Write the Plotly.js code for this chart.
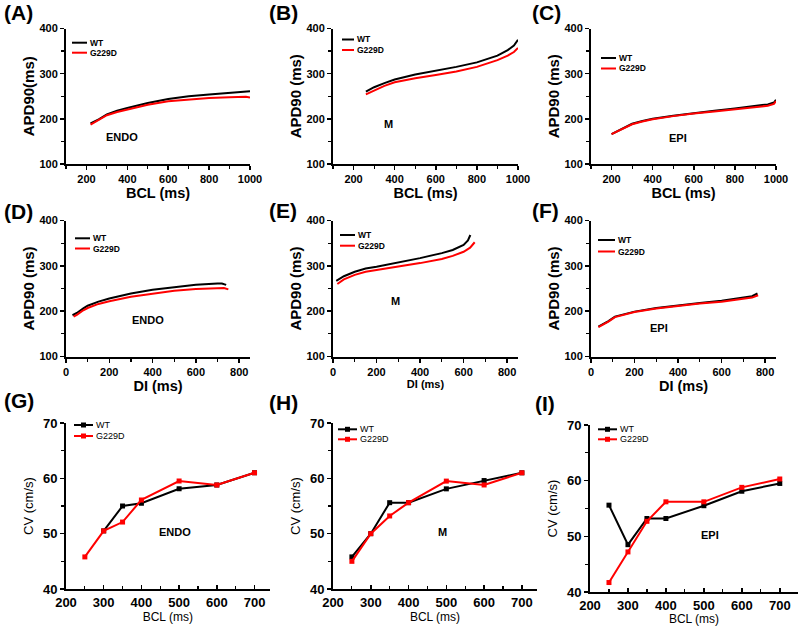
<!DOCTYPE html>
<html>
<head>
<meta charset="utf-8">
<script src="https://cdn.plot.ly/plotly-3.0.1.min.js"></script>
<style>html,body{margin:0;padding:0;background:#fff;}#chart{width:800px;height:626px;}</style>
</head>
<body>
<div id="chart"></div>
<script>
// ---------- DATA ----------
const seriesNames = ["WT", "G229D"];
const regionLabels = ["ENDO", "M", "EPI"];
const panelLabels = ["(A)", "(B)", "(C)", "(D)", "(E)", "(F)", "(G)", "(H)", "(I)"];

// Row 1: APD90 vs BCL
const aWtX  = [220, 260, 300, 350, 400, 500, 600, 700, 800, 900, 1000];
const aWtY  = [190, 199, 210, 218, 224, 235, 244, 250, 254, 258, 261];
const aMutX = [220, 260, 300, 350, 400, 500, 600, 700, 800, 900, 980, 1000];
const aMutY = [187, 197, 208, 215, 220, 231, 239, 243, 246, 248, 249, 247];

const bWtX  = [260, 300, 350, 400, 500, 600, 700, 800, 900, 950, 980, 1000];
const bWtY  = [260, 270, 279, 287, 298, 306, 315, 325, 340, 352, 362, 375];
const bMutX = [260, 300, 350, 400, 500, 600, 700, 800, 900, 950, 980, 1000];
const bMutY = [254, 263, 273, 281, 290, 297, 305, 315, 330, 340, 348, 357];

const cWtX  = [200, 250, 300, 350, 400, 500, 600, 700, 800, 900, 960, 990, 1000];
const cWtY  = [166, 177, 189, 195, 200, 207, 213, 218, 223, 228, 232, 236, 242];
const cMutX = [200, 250, 300, 350, 400, 500, 600, 700, 800, 900, 960, 990, 1000];
const cMutY = [166, 177, 188, 194, 199, 206, 212, 216, 221, 225, 229, 233, 239];

// Row 2: APD90 vs DI
const dWtX  = [30, 50, 80, 100, 150, 200, 300, 400, 500, 600, 700, 720, 740];
const dWtY  = [191, 196, 206, 212, 221, 228, 239, 247, 253, 258, 261, 261, 258];
const dMutX = [35, 50, 80, 100, 150, 200, 300, 400, 500, 600, 700, 730, 750];
const dMutY = [188, 192, 202, 207, 216, 222, 232, 239, 245, 249, 251, 251, 248];

const eWtX  = [15, 50, 100, 150, 200, 300, 400, 500, 550, 600, 620, 631];
const eWtY  = [267, 277, 287, 294, 298, 307, 317, 328, 335, 346, 356, 368];
const eMutX = [20, 50, 100, 150, 200, 300, 400, 500, 550, 600, 630, 651];
const eMutY = [260, 270, 280, 287, 291, 298, 306, 315, 322, 331, 340, 352];

const fWtX  = [34, 60, 80, 110, 150, 200, 300, 400, 500, 600, 700, 740, 765];
const fWtY  = [166, 172, 178, 188, 193, 199, 207, 213, 218, 223, 229, 233, 239];
const fMutX = [34, 60, 80, 110, 150, 200, 300, 400, 500, 600, 700, 740, 768];
const fMutY = [165, 171, 177, 187, 192, 198, 206, 212, 217, 221, 227, 230, 235];

// Row 3: CV vs BCL
const gWtX  = [300, 350, 400, 500, 600, 700];
const gWtY  = [50.5, 55.0, 55.5, 58.1, 58.8, 61.0];
const gMutX = [250, 300, 350, 400, 500, 600, 700];
const gMutY = [45.8, 50.5, 52.1, 56.1, 59.5, 58.8, 61.0];

const hWtX  = [250, 300, 350, 400, 500, 600, 700];
const hWtY  = [45.8, 50.0, 55.6, 55.6, 58.1, 59.6, 61.0];
const hMutX = [250, 300, 350, 400, 500, 600, 700];
const hMutY = [45.0, 50.0, 53.2, 55.6, 59.5, 58.8, 61.0];

const iWtX  = [250, 300, 350, 400, 500, 600, 700];
const iWtY  = [55.6, 48.5, 53.2, 53.2, 55.5, 58.1, 59.5];
const iMutX = [250, 300, 350, 400, 500, 600, 700];
const iMutY = [41.7, 47.2, 52.7, 56.2, 56.2, 58.8, 60.3];

// ---------- BUILD ----------
const FONT = "Arial, 'Liberation Sans', sans-serif";
const BLACK = "#000000", RED = "#ff0000";
const seriesColors = [BLACK, RED];

const panels = [
  [aWtX, aWtY, aMutX, aMutY], [bWtX, bWtY, bMutX, bMutY], [cWtX, cWtY, cMutX, cMutY],
  [dWtX, dWtY, dMutX, dMutY], [eWtX, eWtY, eMutX, eMutY], [fWtX, fWtY, fMutX, fMutY],
  [gWtX, gWtY, gMutX, gMutY], [hWtX, hWtY, hMutX, hMutY], [iWtX, iWtY, iMutX, iMutY]
];

const W = 800, H = 626;
const px = v => v / W;
const py = v => 1 - v / H;

// pixel boxes [left, right, top, bottom]
const boxes = [
  [66, 250, 28.5, 164], [333, 518, 28.5, 164], [591, 776, 28.5, 164],
  [66, 250, 220.5, 356.5], [333, 518, 220.5, 356.5], [591, 776, 220.5, 356.5],
  [66, 269.6, 423, 589], [333, 537, 423, 589], [590, 798, 425, 592]
];
const xRanges = [[100,1000],[100,1000],[100,1000],[0,850],[0,850],[0,850],[200,740],[200,740],[200,748]];
const yRanges = [[100,400],[100,400],[100,400],[100,400],[100,400],[100,400],[40,70],[40,70],[40,70]];
const xTitles = ["BCL (ms)","BCL (ms)","BCL (ms)","DI (ms)","DI (ms)","DI (ms)","BCL (ms)","BCL (ms)","BCL (ms)"];
const yTitles = ["APD90(ms)","APD90 (ms)","APD90 (ms)","APD90 (ms)","APD90 (ms)","APD90 (ms)","CV (cm/s)","CV (cm/s)","CV (cm/s)"];

// legend key placement: [lineStartPx, lineEndPx, row1Px, row2Px]
const legendPos = [
  [72, 87, 42.7, 52.7], [342, 354, 39.5, 50], [601, 616, 58, 68.5],
  [75, 90, 238.3, 248.5], [340, 355, 235, 245.7], [598, 615, 240, 251.5],
  [74, 93, 425, 436], [338, 357, 429.3, 439.3], [598, 617, 429.3, 439.3]
];

const traces = [];
const layout = {
  width: W, height: H,
  margin: {l: 0, r: 0, t: 0, b: 0},
  paper_bgcolor: "#ffffff", plot_bgcolor: "rgba(0,0,0,0)",
  font: {family: FONT, color: "#000"},
  showlegend: false,
  annotations: [],
  shapes: []
};

for (let k = 0; k < 9; k++) {
  const n = k === 0 ? "" : String(k + 1);
  const [wx, wy, mx, my] = panels[k];
  const row3 = k >= 6;
  const mode = row3 ? "lines+markers" : "lines";
  traces.push({
    x: wx, y: wy, name: seriesNames[0], type: "scatter", mode: mode,
    xaxis: "x" + n, yaxis: "y" + n,
    line: {color: BLACK, width: 2}, marker: {symbol: "square", size: 5, color: BLACK}
  });
  traces.push({
    x: mx, y: my, name: seriesNames[1], type: "scatter", mode: mode,
    xaxis: "x" + n, yaxis: "y" + n,
    line: {color: RED, width: 2}, marker: {symbol: "square", size: 5, color: RED}
  });

  const [l, r, t, b] = boxes[k];
  const tickF = {family: FONT, size: row3 ? 13 : 11, color: "#000", weight: "bold"};
  const xTitleFont = row3 ? {family: FONT, size: 12, color: "#000"}
                          : {family: FONT, size: (k === 4 ? 11 : 14.5), color: "#000", weight: "bold"};
  const yTitleFont = row3 ? {family: FONT, size: 13, color: "#000"}
                          : {family: FONT, size: 15, color: "#000", weight: "bold"};
  layout["xaxis" + n] = {
    domain: [px(l), px(r)], range: xRanges[k], anchor: "y" + n,
    showline: true, linecolor: "#000", linewidth: 2, mirror: false,
    showgrid: false, zeroline: false,
    ticks: row3 ? "inside" : "outside", ticklen: 4, tickwidth: 1.5, tickcolor: "#000",
    dtick: row3 ? 100 : 200, tick0: 0,
    minor: {ticks: row3 ? "inside" : "outside", ticklen: 3, tickwidth: 1.2, tickcolor: "#000", dtick: row3 ? 50 : 100, showgrid: false},
    tickfont: tickF,
    title: {text: xTitles[k], font: xTitleFont, standoff: row3 ? 1 : 4},
    fixedrange: true
  };
  layout["yaxis" + n] = {
    domain: [py(b), py(t)], range: yRanges[k], anchor: "x" + n,
    showline: true, linecolor: "#000", linewidth: 2, mirror: false,
    showgrid: false, zeroline: false,
    ticks: "outside", ticklen: 4, tickwidth: 1.5, tickcolor: "#000",
    dtick: row3 ? 10 : 100, tick0: 0,
    minor: {ticks: "outside", ticklen: 3, tickwidth: 1.2, tickcolor: "#000", dtick: row3 ? 5 : 50, showgrid: false},
    tickfont: tickF,
    title: {text: yTitles[k], font: yTitleFont, standoff: row3 ? 6 : 1},
    fixedrange: true
  };

  // legend key (drawn with shapes + text)
  const [lx0, lx1, ly0, ly1] = legendPos[k];
  [ly0, ly1].forEach((ly, s) => {
    layout.shapes.push({
      type: "line", xref: "paper", yref: "paper",
      x0: px(lx0), x1: px(lx1), y0: py(ly), y1: py(ly),
      line: {color: seriesColors[s], width: 2}
    });
    if (row3) {
      const mid = (lx0 + lx1) / 2;
      layout.shapes.push({
        type: "rect", xref: "paper", yref: "paper",
        x0: px(mid - 2.5), x1: px(mid + 2.5), y0: py(ly + 2.5), y1: py(ly - 2.5),
        line: {width: 0}, fillcolor: seriesColors[s]
      });
    }
    layout.annotations.push({
      text: seriesNames[s], xref: "paper", yref: "paper",
      x: px(lx1 + 1), y: py(ly), xanchor: "left", yanchor: "middle",
      showarrow: false,
      font: {family: FONT, size: row3 ? 9 : 8.5, color: "#000", weight: row3 ? "normal" : "bold"}
    });
  });
}

// region labels inside panels (paper px positions)
const regionPos = [[122,137],[388,124],[678,138],[148,320],[395,301],[659,328],[175,532],[442,532],[710,535]];
for (let k = 0; k < 9; k++) {
  layout.annotations.push({
    text: regionLabels[k % 3], xref: "paper", yref: "paper",
    x: px(regionPos[k][0]), y: py(regionPos[k][1]), xanchor: "center", yanchor: "middle",
    showarrow: false, font: {family: FONT, size: 11, color: "#000", weight: "bold"}
  });
}
// panel letters
const letterPos = [[2,13],[267,13],[530,13],[2,211],[267,210],[530,210],[2,400],[267,402],[533,404]];
for (let k = 0; k < 9; k++) {
  layout.annotations.push({
    text: panelLabels[k], xref: "paper", yref: "paper",
    x: px(letterPos[k][0]), y: py(letterPos[k][1]), xanchor: "left", yanchor: "middle",
    showarrow: false, font: {family: FONT, size: 21, color: "#000", weight: "bold"}
  });
}

Plotly.newPlot("chart", traces, layout, {displayModeBar: false, staticPlot: true});
</script>
</body>
</html>
